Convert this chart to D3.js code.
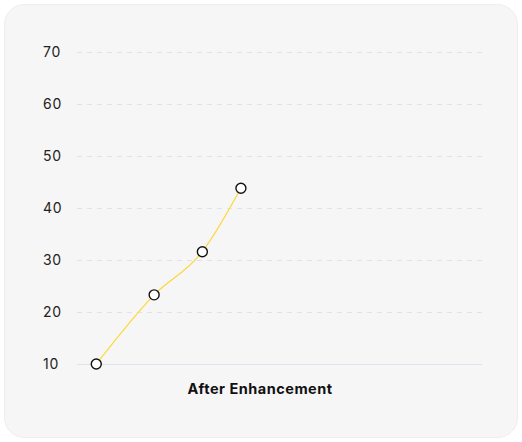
<!DOCTYPE html>
<html>
<head>
<meta charset="utf-8">
<script src="https://cdn.jsdelivr.net/npm/d3@7"></script>
<style>
  body { margin: 0; background: #fff; }
  svg text { font-family: Inter, "Open Sans", sans-serif; }
</style>
</head>
<body>
<svg id="chart"></svg>
<script>
// data
var xValues = [1, 4, 6.5, 8.5];
var yValues = [10, 23.3, 31.6, 43.8];
var yTicks = [10, 20, 30, 40, 50, 60, 70];
var xTitle = "After Enhancement";

var width = 522, height = 442;
var margin = {top: 52, right: 40, bottom: 78, left: 77};

var svg = d3.select("#chart")
	.attr("width", width)
	.attr("height", height);

// card
svg.append("rect")
	.attr("x", 4.5).attr("y", 4.5)
	.attr("width", 513).attr("height", 433)
	.attr("rx", 20)
	.attr("fill", "#f6f6f6")
	.attr("stroke", "#eeeeee")
	.attr("stroke-width", 1);

var xScale = d3.scaleLinear()
	.domain([0, 21])
	.range([margin.left, width - margin.right]);
var yScale = d3.scaleLinear()
	.domain([10, 70])
	.range([height - margin.bottom, margin.top]);

/*gridlines*/
var yAxis = d3.axisLeft(yScale)
	.tickValues(yTicks)
	.tickSize(-(xScale.range()[1] - xScale.range()[0]))
	.tickFormat(d3.format("d"));

var gy = svg.append("g")
	.attr("transform", "translate(" + margin.left + ",0)")
	.call(yAxis);
gy.select(".domain").remove();
gy.selectAll(".tick line")
	.attr("stroke", "#e1e1ec")
	.attr("stroke-width", 1)
	.attr("stroke-dasharray", function(d) { return d === 10 ? null : "5,5"; });
gy.selectAll(".tick text")
	.attr("x", 43 - margin.left)
	.attr("text-anchor", "start")
	.attr("fill", "#222")
	.attr("font-size", 14)
	.attr("letter-spacing", 0.7);

/*line*/
var line = d3.line()
	.curve(d3.curveMonotoneX)
	.x(function(d, i) { return xScale(xValues[i]); })
	.y(function(d) { return yScale(d); });

svg.append("path")
	.datum(yValues)
	.attr("d", line)
	.attr("fill", "none")
	.attr("stroke", "#fdd835")
	.attr("stroke-width", 1.2);

svg.selectAll(".dot")
	.data(yValues)
	.enter().append("circle")
	.attr("class", "dot")
	.attr("cx", function(d, i) { return xScale(xValues[i]); })
	.attr("cy", function(d) { return yScale(d); })
	.attr("r", 5)
	.attr("fill", "#fff")
	.attr("stroke", "#111")
	.attr("stroke-width", 1.4);

svg.append("text")
	.attr("x", 260)
	.attr("y", 394)
	.attr("text-anchor", "middle")
	.attr("font-size", 14.5)
	.attr("font-weight", 700)
	.attr("letter-spacing", 0.5)
	.attr("fill", "#111")
	.text(xTitle);
</script>
</body>
</html>
